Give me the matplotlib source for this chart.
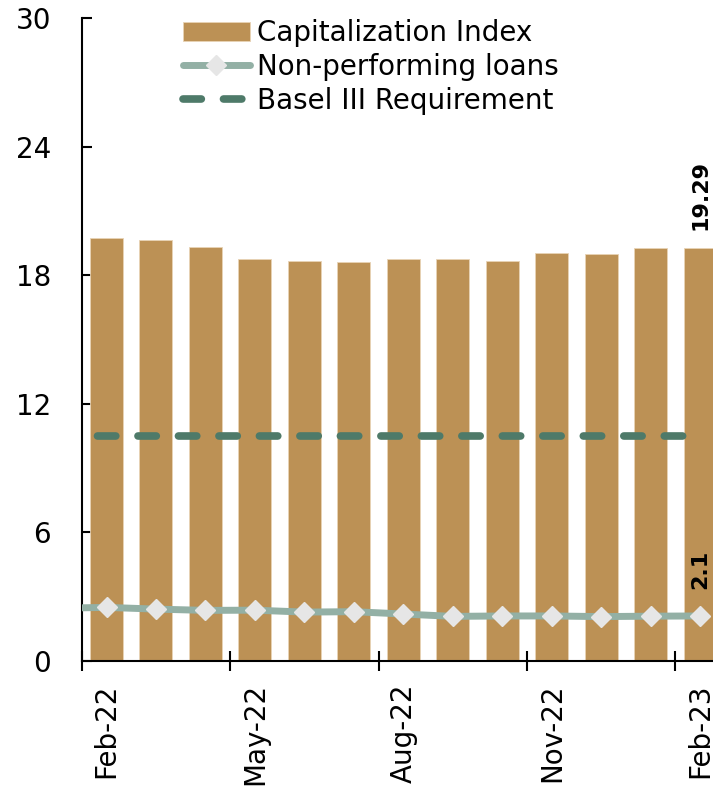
import matplotlib.pyplot as plt
import numpy as np

# monthly series, Feb-22 .. Feb-23
months = ["Feb-22", "Mar-22", "Apr-22", "May-22", "Jun-22", "Jul-22", "Aug-22",
          "Sep-22", "Oct-22", "Nov-22", "Dec-22", "Jan-23", "Feb-23"]
cap_index = [19.73, 19.62, 19.32, 18.74, 18.66, 18.60, 18.74,
             18.74, 18.66, 19.03, 18.98, 19.25, 19.29]
npl = [2.50, 2.42, 2.36, 2.37, 2.28, 2.30, 2.19,
       2.08, 2.10, 2.10, 2.07, 2.09, 2.10]
basel = [10.5] * len(months)
# Jan-22 values (only the lines reach back to the axis edge)
npl_prev = 2.46
basel_prev = 10.5

plt.rcParams['font.family'] = ['DejaVu Sans']

fig = plt.figure(figsize=(7.13, 7.93), dpi=100)
ax = fig.add_axes([0.1147, 0.1665, 0.902, 0.8108])

x = np.arange(len(months))
xl = np.concatenate([[-1], x])

ax.bar(x, cap_index, width=0.667, color='#BC9155', edgecolor='#E8D3B5',
       linewidth=0.6, label="Capitalization Index", zorder=2)
ax.plot(xl, [basel_prev] + basel, color='#4E7A69', lw=5.5, ls=(0, (2.4, 2.9)),
        dash_capstyle='round', label="Basel III Requirement", zorder=3)
ax.plot(xl, [npl_prev] + npl, color='#93B0A5', lw=5, marker='D', markersize=10,
        markerfacecolor='#E6E6E6', markeredgecolor='#E6E6E6',
        solid_capstyle='round', label="Non-performing loans", zorder=4)

# value labels on the last month
ax.text(x[-1], cap_index[-1] + 0.8, "%.2f" % cap_index[-1], rotation=90,
        ha='center', va='bottom', fontsize=16, fontweight='bold')
ax.text(x[-1], npl[-1] + 1.25, "%.1f" % npl[-1], rotation=90,
        ha='center', va='bottom', fontsize=16, fontweight='bold')

ax.set_xlim(-0.5, 12.5)
ax.set_ylim(0, 30)
ax.set_yticks([0, 6, 12, 18, 24, 30])
ax.tick_params(axis='y', direction='in', length=7, width=1.5, labelsize=20, pad=22)

# tick marks on quarter boundaries, labels centred on the month
ax.set_xticks(np.arange(-0.5, 12.5, 3))
ax.set_xticklabels([])
ax.tick_params(axis='x', which='major', direction='inout', length=14, width=1.5)
ax.set_xticks(x[::3], minor=True)
ax.set_xticklabels(months[::3], minor=True, rotation=90, va='top', ha='center')
ax.tick_params(axis='x', which='minor', length=0, labelsize=20, pad=16)

for s in ['top', 'right']:
    ax.spines[s].set_visible(False)
for s in ['left', 'bottom']:
    ax.spines[s].set_linewidth(1.5)

h, l = ax.get_legend_handles_labels()
order = [l.index("Capitalization Index"), l.index("Non-performing loans"),
         l.index("Basel III Requirement")]
ax.legend([h[i] for i in order], [l[i] for i in order], loc='upper left',
          bbox_to_anchor=(0.14, 1.015), frameon=False, fontsize=20,
          handlelength=2.4, handletextpad=0.25, labelspacing=0.2,
          borderaxespad=0)

fig.savefig("out.png", dpi=100)
